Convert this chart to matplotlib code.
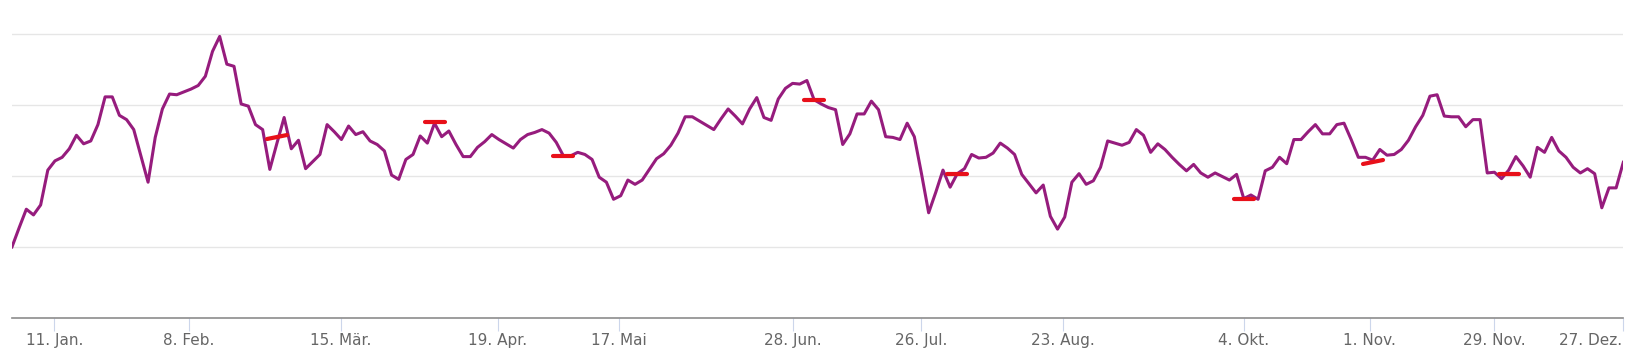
import numpy as np
import matplotlib
matplotlib.use("Agg")
import matplotlib.pyplot as plt
from matplotlib.markers import MarkerStyle
from matplotlib.transforms import Affine2D

# daily values (one per data point, ordinal x-axis)
values = [
    1.00, 1.27, 1.53, 1.45, 1.59, 2.08, 2.21, 2.26, 2.38, 2.57,
    2.45, 2.49, 2.72, 3.11, 3.11, 2.85, 2.79, 2.65, 2.28, 1.91,
    2.54, 2.94, 3.15, 3.14, 3.18, 3.22, 3.27, 3.40, 3.75, 3.96,
    3.57, 3.54, 3.01, 2.98, 2.72, 2.65, 2.09, 2.46, 2.82, 2.38,
    2.50, 2.10, 2.20, 2.30, 2.72, 2.62, 2.51, 2.70, 2.58, 2.62,
    2.49, 2.44, 2.35, 2.01, 1.95, 2.23, 2.30, 2.56, 2.46, 2.74,
    2.55, 2.63, 2.44, 2.27, 2.27, 2.40, 2.48, 2.58, 2.51, 2.45,
    2.39, 2.51, 2.58, 2.61, 2.65, 2.60, 2.47, 2.28, 2.28, 2.33,
    2.30, 2.23, 1.98, 1.91, 1.67, 1.72, 1.94, 1.88, 1.94, 2.09,
    2.24, 2.31, 2.43, 2.60, 2.83, 2.83, 2.77, 2.71, 2.65, 2.80,
    2.94, 2.84, 2.73, 2.94, 3.10, 2.82, 2.78, 3.08, 3.23, 3.30,
    3.29, 3.34, 3.07, 3.01, 2.96, 2.93, 2.44, 2.59, 2.87, 2.87,
    3.05, 2.93, 2.55, 2.54, 2.51, 2.74, 2.55, 2.03, 1.48, 1.77,
    2.08, 1.84, 2.03, 2.10, 2.30, 2.25, 2.26, 2.32, 2.46, 2.39,
    2.30, 2.02, 1.89, 1.76, 1.87, 1.43, 1.25, 1.42, 1.91, 2.03,
    1.88, 1.93, 2.12, 2.49, 2.46, 2.43, 2.47, 2.65, 2.57, 2.33,
    2.45, 2.37, 2.26, 2.16, 2.07, 2.16, 2.04, 1.98, 2.04, 1.99,
    1.94, 2.02, 1.68, 1.73, 1.67, 2.07, 2.12, 2.26, 2.17, 2.51,
    2.51, 2.62, 2.72, 2.59, 2.59, 2.72, 2.74, 2.51, 2.26, 2.26,
    2.22, 2.37, 2.29, 2.30, 2.37, 2.50, 2.69, 2.85, 3.12, 3.14,
    2.84, 2.83, 2.83, 2.69, 2.79, 2.79, 2.04, 2.05, 1.96, 2.08,
    2.27, 2.14, 1.98, 2.40, 2.33, 2.54, 2.35, 2.26, 2.12, 2.04,
    2.10, 2.03, 1.55, 1.83, 1.83, 2.19,
]

# red flag marks (point index, value)
flag_idx = [37, 59, 77, 112, 132, 172, 190, 209]
flag_val = [2.55, 2.76, 2.28, 3.07, 2.03, 1.67, 2.20, 2.02]
flag_tilt = [12, 0, 0, 0, 0, 0, 10, 0]

tick_pos = [5.9, 24.7, 45.9, 67.8, 84.8, 109.0, 126.9, 146.8, 172.0, 189.6, 207.0, 224.9]
tick_labels = ["11. Jan.", "8. Feb.", "15. Mär.", "19. Apr.", "17. Mai", "28. Jun.",
               "26. Jul.", "23. Aug.", "4. Okt.", "1. Nov.", "29. Nov.", "27. Dez."]

fig = plt.figure(figsize=(16.32, 3.64), dpi=100)
ax = fig.add_axes([12 / 1632, 46 / 364, 1611.3 / 1632, 318 / 364])

x = np.arange(len(values))
ax.plot(x, values, color="#961c7d", lw=2.2, solid_joinstyle="round", zorder=2)

for i, v, t in zip(flag_idx, flag_val, flag_tilt):
    m = MarkerStyle("_", capstyle="round", transform=Affine2D().rotate_deg(t))
    ax.plot(i, v, marker=m, ms=14, mew=3.0, color="#e8101a", ls="none", zorder=3)

ax.set_xlim(0, len(values) - 1)
ax.set_ylim(0, 318 / 71.1)

ax.set_yticks([1, 2, 3, 4])
ax.yaxis.grid(True, color="#e6e6e6", lw=1.0)
ax.tick_params(axis="y", length=0, labelleft=False)
ax.set_axisbelow(True)

ax.set_xticks(tick_pos)
ax.set_xticklabels(tick_labels)
ax.tick_params(axis="x", direction="out", length=9, width=0.8, color="#ccd6eb",
               labelcolor="#666666", labelsize=11, pad=1.5)
# last label is pushed inside the chart, like the original
ax.get_xticklabels()[-1].set_horizontalalignment("right")

for s in ["top", "left", "right"]:
    ax.spines[s].set_visible(False)
ax.spines["bottom"].set_color("#8c8c8c")
ax.spines["bottom"].set_linewidth(1.2)

fig.savefig("out.png", dpi=100)
